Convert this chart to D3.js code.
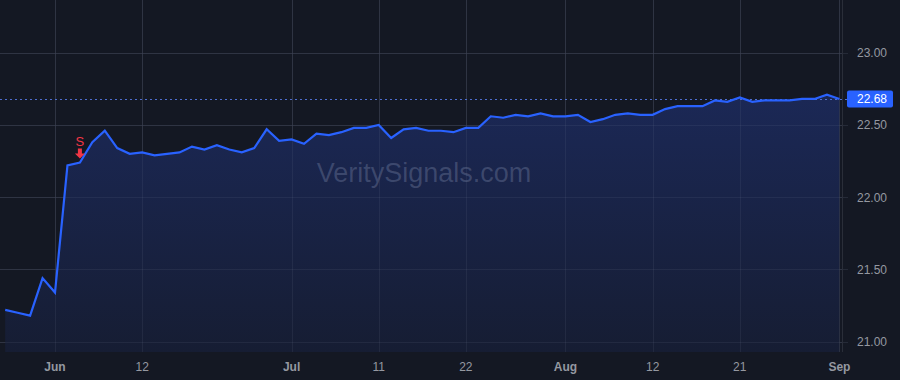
<!DOCTYPE html>
<html>

<head>
  <meta charset="utf-8">
  <title>VeritySignals chart</title>
  <script type="text/javascript" src="https://cdn.jsdelivr.net/npm/d3@7"></script>
  <style type="text/css">
    body {
      margin: 0;
      background: #141823;
    }

    svg {
      display: block;
      font-family: "Liberation Sans", Arial, sans-serif;
    }
  </style>
</head>

<body>
  <div id="chart"></div>

  <script type="text/javascript">
    // Handelsdage (maj 28 - sep 3)
    const dates = [
      "05-28", "05-29", "05-30", "05-31", "06-03", "06-04", "06-05", "06-06", "06-07", "06-10",
      "06-11", "06-12", "06-13", "06-14", "06-17", "06-18", "06-20", "06-21", "06-24", "06-25",
      "06-26", "06-27", "06-28", "07-01", "07-02", "07-03", "07-05", "07-08", "07-09", "07-10",
      "07-11", "07-12", "07-15", "07-16", "07-17", "07-18", "07-19", "07-22", "07-23", "07-24",
      "07-25", "07-26", "07-29", "07-30", "07-31", "08-01", "08-02", "08-05", "08-06", "08-07",
      "08-08", "08-09", "08-12", "08-13", "08-14", "08-15", "08-16", "08-19", "08-20", "08-21",
      "08-22", "08-23", "08-26", "08-27", "08-28", "08-29", "08-30", "09-03"
    ];

    const closes = [
      21.22, 21.20, 21.18, 21.44, 21.34, 22.22, 22.24, 22.38, 22.46, 22.34,
      22.30, 22.31, 22.29, 22.30, 22.31, 22.35, 22.33, 22.36, 22.33, 22.31,
      22.34, 22.47, 22.39, 22.40, 22.37, 22.44, 22.43, 22.45, 22.48, 22.48,
      22.50, 22.41, 22.47, 22.48, 22.46, 22.46, 22.45, 22.48, 22.48, 22.56,
      22.55, 22.57, 22.56, 22.58, 22.56, 22.56, 22.57, 22.52, 22.54, 22.57,
      22.58, 22.57, 22.57, 22.61, 22.63, 22.63, 22.63, 22.67, 22.66, 22.69,
      22.66, 22.67, 22.67, 22.67, 22.68, 22.68, 22.71, 22.68
    ];

    // x-akse labels (dato -> tekst)
    const xTicks = [
      { date: "06-03", label: "Jun", month: true },
      { date: "06-12", label: "12", month: false },
      { date: "07-01", label: "Jul", month: true },
      { date: "07-11", label: "11", month: false },
      { date: "07-22", label: "22", month: false },
      { date: "08-01", label: "Aug", month: true },
      { date: "08-12", label: "12", month: false },
      { date: "08-21", label: "21", month: false },
      { date: "09-03", label: "Sep", month: true }
    ];

    const yTicks = [21.0, 21.5, 22.0, 22.5, 23.0];
    const signals = [{ date: "06-05", label: "S" }];
    const lastPrice = 22.68;
    const watermark = "VeritySignals.com";

    // Mål
    const w = 900;
    const h = 380;
    const plotW = 842;
    const plotH = 352;

    const x = d3.scaleLinear()
      .domain([0, dates.length - 1])
      .range([5.2, 839.4]);

    const y = d3.scaleLinear()
      .domain([21, 23])
      .range([341.7, 52.7]);

    const svg = d3.select("#chart")
      .append("svg")
      .attr("width", w)
      .attr("height", h);

    svg.append("rect")
      .attr("width", w)
      .attr("height", h)
      .attr("fill", "#141823");

    const defs = svg.append("defs");
    const grad = defs.append("linearGradient")
      .attr("id", "fillGrad")
      .attr("x1", 0).attr("y1", 0)
      .attr("x2", 0).attr("y2", 1);
    grad.append("stop").attr("offset", "0%").attr("stop-color", "#1b2856");
    grad.append("stop").attr("offset", "100%").attr("stop-color", "#161d33");

    // Grid
    const grid = svg.append("g");
    grid.selectAll("line.h")
      .data(yTicks)
      .enter()
      .append("line")
      .attr("x1", 0)
      .attr("x2", plotW + 6)
      .attr("y1", d => Math.round(y(d)) + 0.5)
      .attr("y2", d => Math.round(y(d)) + 0.5)
      .attr("stroke", "#252a37");

    grid.selectAll("line.v")
      .data(xTicks)
      .enter()
      .append("line")
      .attr("x1", d => Math.round(x(dates.indexOf(d.date))) + 0.5)
      .attr("x2", d => Math.round(x(dates.indexOf(d.date))) + 0.5)
      .attr("y1", 0)
      .attr("y2", plotH)
      .attr("stroke", "#252a37");

    // Area + linje
    const idx = d3.range(dates.length);

    const area = d3.area()
      .x(i => x(i))
      .y0(plotH)
      .y1(i => y(closes[i]));

    const line = d3.line()
      .x(i => x(i))
      .y(i => y(closes[i]));

    svg.append("path")
      .datum(idx)
      .attr("d", area)
      .attr("fill", "url(#fillGrad)");

    // Watermark
    svg.append("text")
      .attr("x", 424)
      .attr("y", 182)
      .attr("text-anchor", "middle")
      .attr("font-size", 27)
      .attr("fill", "rgba(150,162,195,0.28)")
      .text(watermark);

    // Grid over fill (svag)
    svg.append("g").selectAll("line")
      .data(xTicks)
      .enter()
      .append("line")
      .attr("x1", d => Math.round(x(dates.indexOf(d.date))) + 0.5)
      .attr("x2", d => Math.round(x(dates.indexOf(d.date))) + 0.5)
      .attr("y1", 0)
      .attr("y2", plotH)
      .attr("stroke", "rgba(120,130,160,0.12)");
    svg.append("g").selectAll("line")
      .data(yTicks)
      .enter()
      .append("line")
      .attr("x1", 0)
      .attr("x2", plotW)
      .attr("y1", d => Math.round(y(d)) + 0.5)
      .attr("y2", d => Math.round(y(d)) + 0.5)
      .attr("stroke", "rgba(120,130,160,0.12)");

    // Sidste pris, stiplet linje
    svg.append("line")
      .attr("x1", 0)
      .attr("x2", plotW + 6)
      .attr("y1", Math.round(y(lastPrice)) + 0.5)
      .attr("y2", Math.round(y(lastPrice)) + 0.5)
      .attr("stroke", "#4f6fd0")
      .attr("stroke-dasharray", "2,3");

    svg.append("path")
      .datum(idx)
      .attr("d", line)
      .attr("fill", "none")
      .attr("stroke", "#2962ff")
      .attr("stroke-width", 2.2)
      .attr("stroke-linejoin", "miter");

    // Signal markør
    signals.forEach(s => {
      const sx = x(dates.indexOf(s.date));
      const sy = y(closes[dates.indexOf(s.date)]);
      svg.append("text")
        .attr("x", sx)
        .attr("y", sy - 17)
        .attr("text-anchor", "middle")
        .attr("font-size", 13)
        .attr("fill", "#f23645")
        .text(s.label);
      svg.append("path")
        .attr("d", `M${sx - 2},${sy - 14} h4 v5 h3 l-5,5 l-5,-5 h3 z`)
        .attr("fill", "#f23645");
    });

    // Akse-kant
    svg.append("line")
      .attr("x1", plotW + 0.5)
      .attr("x2", plotW + 0.5)
      .attr("y1", 0)
      .attr("y2", plotH)
      .attr("stroke", "#2a2e39");

    // Y-akse labels
    svg.append("g").selectAll("text")
      .data(yTicks)
      .enter()
      .append("text")
      .attr("x", 887)
      .attr("y", d => y(d) + 4.5)
      .attr("text-anchor", "end")
      .attr("font-size", 12)
      .attr("fill", "#9598a1")
      .text(d => d.toFixed(2));

    // Pris-label
    const py = y(lastPrice);
    svg.append("rect")
      .attr("x", 847)
      .attr("y", py - 8.5)
      .attr("width", 46)
      .attr("height", 17)
      .attr("rx", 2)
      .attr("fill", "#2962ff");
    svg.append("text")
      .attr("x", 887)
      .attr("y", py + 4.5)
      .attr("text-anchor", "end")
      .attr("font-size", 12)
      .attr("fill", "#ffffff")
      .text(lastPrice.toFixed(2));

    // X-akse labels
    svg.append("g").selectAll("text")
      .data(xTicks)
      .enter()
      .append("text")
      .attr("x", d => x(dates.indexOf(d.date)))
      .attr("y", 371)
      .attr("text-anchor", "middle")
      .attr("font-size", 12)
      .attr("font-weight", d => d.month ? "bold" : "normal")
      .attr("fill", "#9598a1")
      .text(d => d.label);
  </script>
</body>

</html>
